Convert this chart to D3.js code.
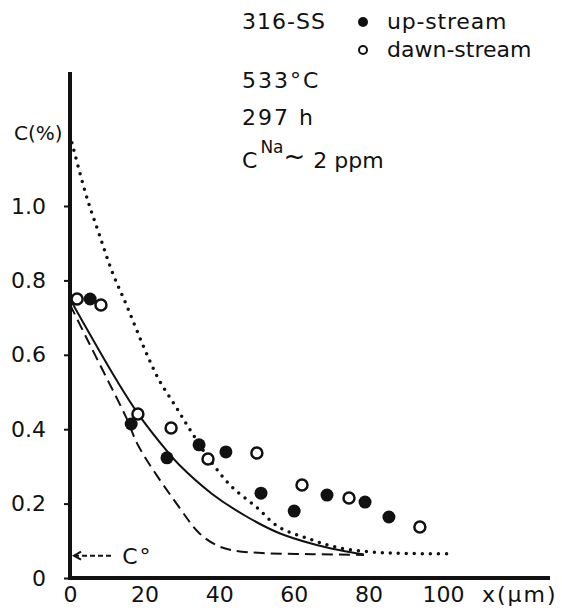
<!DOCTYPE html>
<html>
<head>
<meta charset="utf-8">
<script src="https://cdn.jsdelivr.net/npm/d3@7"></script>
<style>
body { margin: 0; background: #fff; }
text { font-family: "DejaVu Sans", sans-serif; fill: #111; }
</style>
</head>
<body>
<svg id="chart" width="562" height="611"></svg>
<script>
// measured points, x in micrometres, C in %
var upX = [5.4, 16.4, 26, 34.6, 41.8, 51.2, 60.1, 68.9, 79.1, 85.5];
var upC = [0.75, 0.414, 0.323, 0.358, 0.339, 0.228, 0.18, 0.223, 0.204, 0.164];
var downX = [1.9, 8.3, 18.2, 27.1, 37.0, 50.1, 62.2, 74.8, 93.8];
var downC = [0.75, 0.734, 0.441, 0.403, 0.32, 0.336, 0.25, 0.215, 0.137];

// calculated profiles
var solidX = [0, 5.9, 12.6, 18.5, 25.7, 29.2, 38.1, 47.2, 56, 64.9, 72.1, 78.8];
var solidC = [0.75, 0.645, 0.53, 0.438, 0.345, 0.305, 0.226, 0.166, 0.121, 0.092, 0.075, 0.063];
var dashX = [0, 4.3, 9.7, 15, 18.5, 29.2, 34.6, 39.1, 43.4, 51.5, 65, 78.8];
var dashC = [0.735, 0.648, 0.54, 0.433, 0.352, 0.191, 0.121, 0.089, 0.075, 0.067, 0.064, 0.062];
var dotX = [0.5, 4.6, 7.8, 11.3, 15.3, 19.8, 23.9, 28.4, 32.7, 38.1, 43.4, 49.9, 56, 63.3, 71.3, 80.7, 90, 101];
var dotC = [1.17, 1.02, 0.925, 0.823, 0.73, 0.62, 0.532, 0.46, 0.39, 0.309, 0.245, 0.191, 0.137, 0.108, 0.083, 0.07, 0.066, 0.065];

var cZero = 0.06;   // C° level marked by the arrow

var xTicks = [0, 20, 40, 60, 80, 100];
var yTicks = [0, 0.2, 0.4, 0.6, 0.8, 1.0];

var svg = d3.select("#chart");

var x = d3.scaleLinear().domain([0, 100]).range([70, 443]);
var y = d3.scaleLinear().domain([0, 1]).range([578, 206]);

// y axis
var yAxis = svg.append("g")
    .attr("transform", "translate(" + x(0) + ",0)")
    .call(d3.axisLeft(y)
        .tickValues(yTicks)
        .tickSize(6)
        .tickPadding(18)
        .tickFormat(function(d) { return d === 0 ? "0" : d.toFixed(1); }));
yAxis.select(".domain").remove();
yAxis.selectAll("line").attr("stroke", "#111").attr("stroke-width", 2);
yAxis.selectAll("text")
    .attr("font-size", "22px")
    .attr("font-family", "DejaVu Sans")
    .attr("fill", "#111");

// x axis
var xAxis = svg.append("g")
    .attr("transform", "translate(0," + y(0) + ")")
    .call(d3.axisBottom(x)
        .tickValues(xTicks)
        .tickSize(0)
        .tickPadding(8));
xAxis.select(".domain").remove();
xAxis.selectAll("text")
    .attr("font-size", "22px")
    .attr("font-family", "DejaVu Sans")
    .attr("fill", "#111");

svg.append("line")
    .attr("x1", x(0)).attr("x2", x(0))
    .attr("y1", y(0) + 2).attr("y2", 72)
    .attr("stroke", "#111").attr("stroke-width", 4);
svg.append("line")
    .attr("x1", x(0) - 2).attr("x2", 550)
    .attr("y1", y(0)).attr("y2", y(0))
    .attr("stroke", "#111").attr("stroke-width", 4);

svg.append("text")
    .attr("x", 14).attr("y", 140)
    .attr("font-size", "20px")
    .text("C(%)");

svg.append("text")
    .attr("x", 482).attr("y", 602)
    .attr("font-size", "22px")
    .attr("letter-spacing", "2")
    .text("x(\u03bcm)");

// curves
var line = d3.line()
    .x(function(d) { return x(d[0]); })
    .y(function(d) { return y(d[1]); })
    .curve(d3.curveCatmullRom.alpha(0.5));

svg.append("path")
    .datum(d3.zip(solidX, solidC))
    .attr("fill", "none")
    .attr("stroke", "#111")
    .attr("stroke-width", 2)
    .attr("d", line);

svg.append("path")
    .datum(d3.zip(dashX, dashC))
    .attr("fill", "none")
    .attr("stroke", "#111")
    .attr("stroke-width", 2)
    .attr("stroke-dasharray", "11,6")
    .attr("d", line);

svg.append("path")
    .datum(d3.zip(dotX, dotC))
    .attr("fill", "none")
    .attr("stroke", "#111")
    .attr("stroke-width", 3.5)
    .attr("stroke-linecap", "round")
    .attr("stroke-dasharray", "0,8")
    .attr("d", line);

// C° arrow
var ay = y(cZero);
svg.append("line")
    .attr("x1", x(0) + 4).attr("x2", x(11.5))
    .attr("y1", ay).attr("y2", ay)
    .attr("stroke", "#111").attr("stroke-width", 2)
    .attr("stroke-dasharray", "5,3");
svg.append("path")
    .attr("d", "M" + (x(0) + 11) + "," + (ay - 4) + "L" + (x(0) + 4) + "," + ay + "L" + (x(0) + 11) + "," + (ay + 4))
    .attr("fill", "none").attr("stroke", "#111").attr("stroke-width", 2);
var cz = svg.append("text")
    .attr("x", x(14)).attr("y", ay + 8)
    .attr("font-size", "22px");
cz.append("tspan").text("C");
cz.append("tspan").attr("dx", 2).text("\u00b0");

// data points
svg.selectAll(".up")
    .data(d3.zip(upX, upC))
    .enter()
    .append("circle")
        .attr("class", "up")
        .attr("cx", function(d) { return x(d[0]); })
        .attr("cy", function(d) { return y(d[1]); })
        .attr("r", 6.5)
        .attr("fill", "#111");

svg.selectAll(".down")
    .data(d3.zip(downX, downC))
    .enter()
    .append("circle")
        .attr("class", "down")
        .attr("cx", function(d) { return x(d[0]); })
        .attr("cy", function(d) { return y(d[1]); })
        .attr("r", 5.5)
        .attr("fill", "#fff")
        .attr("stroke", "#111")
        .attr("stroke-width", 2.5);

// legend and conditions
svg.append("text")
    .attr("x", 242).attr("y", 29)
    .attr("font-size", "22px")
    .attr("letter-spacing", "1")
    .text("316-SS");
svg.append("circle").attr("cx", 363).attr("cy", 22).attr("r", 5).attr("fill", "#111");
svg.append("text")
    .attr("x", 387).attr("y", 29)
    .attr("font-size", "22px")
    .attr("letter-spacing", "0.8")
    .text("up-stream");
svg.append("circle").attr("cx", 363).attr("cy", 50).attr("r", 4)
    .attr("fill", "none").attr("stroke", "#111").attr("stroke-width", 2);
svg.append("text")
    .attr("x", 387).attr("y", 57)
    .attr("font-size", "22px")
    .text("dawn-stream");

svg.append("text")
    .attr("x", 242).attr("y", 88)
    .attr("font-size", "22px")
    .attr("letter-spacing", "2")
    .text("533\u00b0C");
svg.append("text")
    .attr("x", 242).attr("y", 125)
    .attr("font-size", "22px")
    .attr("letter-spacing", "2")
    .text("297 h");

var cna = svg.append("text")
    .attr("x", 242).attr("y", 168)
    .attr("font-size", "22px");
cna.append("tspan").text("C");
cna.append("tspan").attr("dy", -15).attr("dx", 3).attr("font-size", "17px").text("Na");
cna.append("tspan").attr("dy", 12).attr("font-size", "26px").text("~");
cna.append("tspan").attr("dy", 3).attr("dx", 8).text("2 ppm");
</script>
</body>
</html>
